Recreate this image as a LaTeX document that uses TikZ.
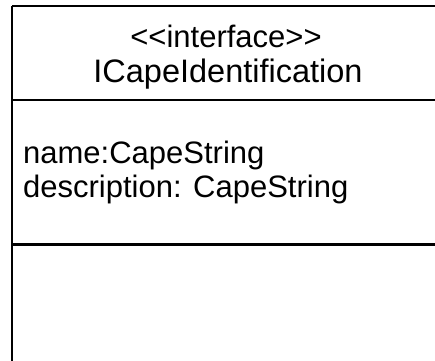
\documentclass[tikz,border=0pt]{standalone}
\usepackage{fontspec}
\newfontfamily\lsans{Liberation Sans}
\begin{document}
\begin{tikzpicture}[x=1pt,y=-1pt,
  txt/.style={font=\lsans\fontsize{31}{36}\selectfont, inner sep=0pt, text=black},
  ttl/.style={txt, font=\lsans\fontsize{32.5}{38}\selectfont},
  edge/.style={draw=black}]
\useasboundingbox (0,0) rectangle (435,360);
\clip (0,0) rectangle (435,360);
% class box (continues past the right and bottom borders)
\coordinate (tl) at (12,6);
\coordinate (tr) at (450,6);
\coordinate (bl) at (12,380);
\coordinate (d1l) at (12,100);
\coordinate (d1r) at (450,100);
\coordinate (d2l) at (12,244);
\coordinate (d2r) at (450,244);
\draw[edge, line width=2pt] (tl) -- (tr);
\draw[edge, line width=2.6pt] (tl) -- (bl);
\draw[edge, line width=1.8pt] (d1l) -- (d1r);
\draw[edge, line width=3pt] (d2l) -- (d2r);
% texts
\node[txt, anchor=base] (stereo) at (226,47) {<<interface>>};
\node[ttl, anchor=base] (name) at (228,82) {ICapeIdentification};
\node[txt, anchor=base west] (a1) at (23,163) {name:CapeString};
\node[txt, anchor=base west] (a2) at (23,197) {description: CapeString};
\end{tikzpicture}
\end{document}
